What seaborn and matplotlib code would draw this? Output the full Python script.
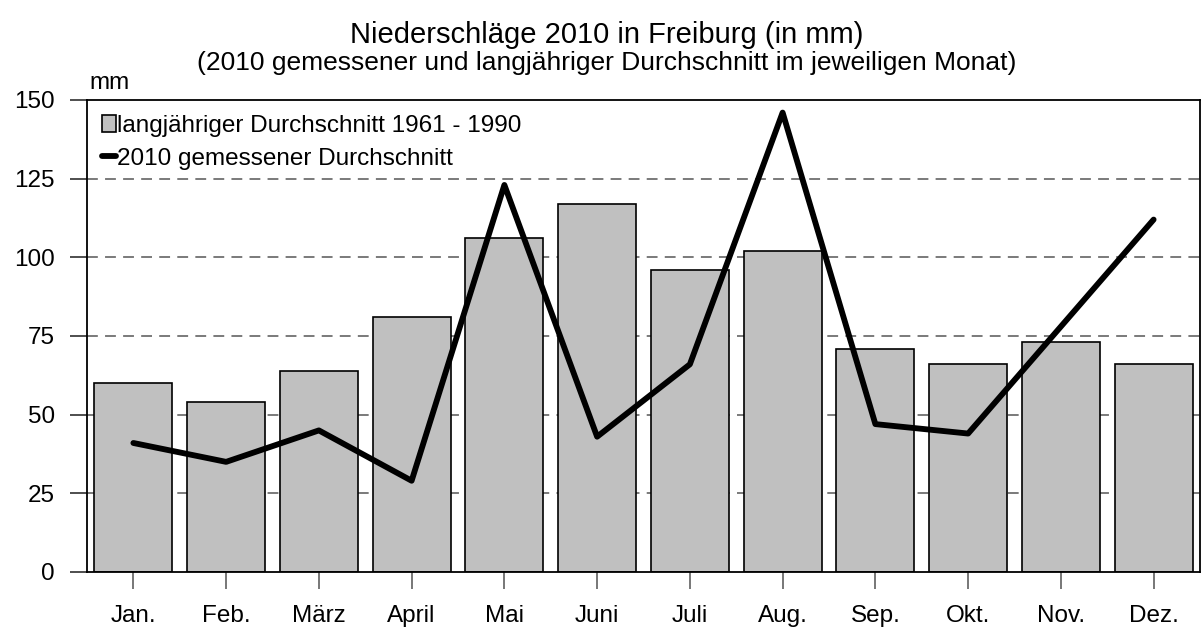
import matplotlib
matplotlib.use("Agg")
import matplotlib.pyplot as plt
import seaborn as sns
import pandas as pd
from matplotlib.patches import Patch
from matplotlib.lines import Line2D

months = ["Jan.", "Feb.", "März", "April", "Mai", "Juni", "Juli", "Aug.",
          "Sep.", "Okt.", "Nov.", "Dez."]
longterm = [60, 54, 64, 81, 106, 117, 96, 102, 71, 66, 73, 66]
measured_2010 = [41, 35, 45, 29, 123, 43, 66, 146, 47, 44, 78, 112]
y_ticks = [0, 25, 50, 75, 100, 125, 150]

title = "Niederschläge 2010 in Freiburg (in mm)"
subtitle = "(2010 gemessener und langjähriger Durchschnitt im jeweiligen Monat)"
label_bars = "langjähriger Durchschnitt 1961 - 1990"
label_line = "2010 gemessener Durchschnitt"

sns.set_theme(style="white")
plt.rcParams["font.family"] = ["Liberation Sans", "DejaVu Sans"]
plt.rcParams["text.color"] = "black"
plt.rcParams["xtick.color"] = "black"
plt.rcParams["ytick.color"] = "black"
plt.rcParams["xtick.labelcolor"] = "black"
plt.rcParams["ytick.labelcolor"] = "black"

df = pd.DataFrame({"Monat": months, "lang": longterm, "m2010": measured_2010})

fig = plt.figure(figsize=(12.01, 6.28), dpi=100)
ax = fig.add_axes([87 / 1201, 1 - 572 / 628, 1113 / 1201, 472 / 628])

sns.barplot(data=df, x="Monat", y="lang", color="#c0c0c0", saturation=1,
            edgecolor="black", linewidth=1.2, width=0.84, ax=ax, zorder=2)
sns.pointplot(data=df, x="Monat", y="m2010", color="black", linewidth=4.2,
              marker="", errorbar=None, ax=ax, zorder=3)

ax.set_xlim(-0.5, len(months) - 0.5)
ax.set_ylim(0, 150)
ax.set_yticks(y_ticks)
ax.set_xlabel("")
ax.set_ylabel("")

for v in y_ticks[1:-1]:
    ax.axhline(v, color="#707070", linestyle=(0, (6, 4)), linewidth=1.3, zorder=0)

for s in ax.spines.values():
    s.set_visible(True)
    s.set_color("black")
    s.set_linewidth(1.3)

ax.tick_params(axis="y", direction="out", length=12, width=1.2, color="#303030",
               pad=11, labelsize=17.5, left=True)
ax.tick_params(axis="x", direction="out", length=12, width=1.2, color="#606060",
               pad=12, labelsize=17.5, bottom=True)

ax.text(0.002, 1.012, "mm", transform=ax.transAxes, fontsize=17.5, ha="left", va="bottom")

handles = [Patch(facecolor="#c0c0c0", edgecolor="black", linewidth=1.2),
           Line2D([0], [0], color="black", linewidth=4.2)]
leg = ax.legend(handles, [label_bars, label_line], loc="upper left",
                frameon=False, fontsize=17.5, handlelength=0.6, handleheight=0.7,
                handletextpad=0.05, borderaxespad=0.2, labelspacing=0.45,
                bbox_to_anchor=(0.0, 1.0))

fig.text(0.505, 1 - 35 / 628, title, ha="center", va="center", fontsize=21)
fig.text(0.505, 1 - 63 / 628, subtitle, ha="center", va="center", fontsize=19)

fig.savefig("out.png", dpi=100)
